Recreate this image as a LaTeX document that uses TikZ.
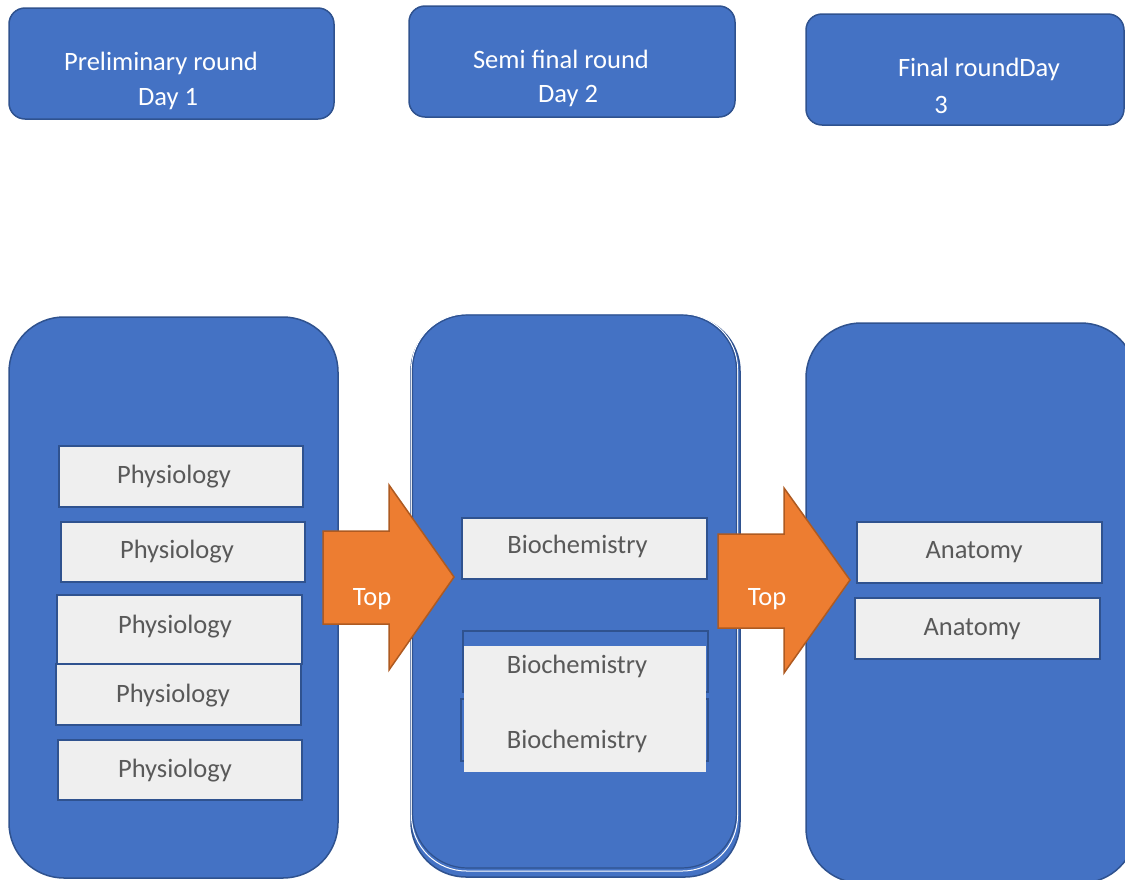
\documentclass[tikz,border=0pt]{standalone}
\usepackage{fontspec}
\setmainfont{Carlito}
\definecolor{boxblue}{HTML}{4472C4}
\definecolor{bordc}{HTML}{2F528F}
\definecolor{boxgray}{HTML}{EFEFEF}
\definecolor{txtgray}{HTML}{595959}
\definecolor{arrfill}{HTML}{ED7D31}
\definecolor{arrdraw}{HTML}{AE5A21}
\begin{document}
\begin{tikzpicture}[x=1pt,y=-1pt,
  topbox/.style={draw=bordc, fill=boxblue, line width=1.5pt, rounded corners=16pt, inner sep=0pt, anchor=center},
  bigbox/.style={draw=bordc, fill=boxblue, line width=1.5pt, rounded corners=55pt, inner sep=0pt, anchor=center},
  subbox/.style={draw=bordc, fill=boxgray, line width=1.8pt, inner sep=0pt, anchor=center},
  hollowbox/.style={draw=bordc, fill=boxblue, line width=1.8pt, inner sep=0pt, anchor=center},
  cover/.style={fill=boxgray, inner sep=0pt, anchor=center},
  wtext/.style={text=white, font=\fontsize{26.5}{32}\selectfont, inner sep=0pt, anchor=base},
  gtext/.style={text=txtgray, font=\fontsize{26.5}{32}\selectfont, inner sep=0pt, anchor=base},
  blockarrow/.style={fill=arrfill, draw=arrdraw, line width=1.5pt, line join=miter}
]
\useasboundingbox (0,0) rectangle (1125,879);

% top boxes
\node[topbox, minimum width=325pt, minimum height=111pt] (t1) at (171.5,63.5) {};
\node[topbox, minimum width=326pt, minimum height=111pt] (t2) at (572,61.5) {};
\node[topbox, minimum width=318pt, minimum height=111pt] (t3) at (965,69.5) {};
\node[wtext] (t1a) at (161,70) {Preliminary round};
\node[wtext] (t1b) at (168,105) {Day 1};
\node[wtext] (t2a) at (561,68) {Semi final round};
\node[wtext] (t2b) at (568,102) {Day 2};
\node[wtext] (t3a) at (979,76) {Final roundDay};
\node[wtext] (t3b) at (941,113) {3};

% big boxes
\node[bigbox, minimum width=329pt, minimum height=561pt] (ca) at (173.5,597.5) {};
\node[bigbox, minimum width=329pt, minimum height=561pt] (cbback) at (575.5,596.5) {};
\node[bigbox, draw=white, line width=1pt, minimum width=326pt, minimum height=557pt] (cbwhite) at (574.5,592.5) {};
\node[bigbox, line width=1.2pt, minimum width=324pt, minimum height=553pt] (cb) at (574.5,591.5) {};
\node[bigbox, minimum width=330pt, minimum height=560pt] (cc) at (971,603) {};

% physiology
\node[subbox, minimum width=244pt, minimum height=61pt] (p1) at (181,476.5) {};
\node[subbox, minimum width=244pt, minimum height=60pt] (p2) at (183,552) {};
\node[subbox, minimum width=245pt, minimum height=69pt] (p3) at (179.5,629.5) {};
\node[subbox, minimum width=245pt, minimum height=61pt] (p4) at (178.5,694.5) {};
\node[subbox, minimum width=244pt, minimum height=60pt] (p5) at (180,770) {};
\node[gtext] (p1t) at (174,483) {Physiology};
\node[gtext] (p2t) at (177,558) {Physiology};
\node[gtext] (p3t) at (175,633) {Physiology};
\node[gtext] (p4t) at (173,702) {Physiology};
\node[gtext] (p5t) at (175,777) {Physiology};

% biochemistry
\node[subbox, minimum width=245pt, minimum height=61pt] (b1) at (584.5,548.5) {};
\node[hollowbox, minimum width=245pt, minimum height=61pt] (b2) at (585.5,661.5) {};
\node[hollowbox, minimum width=247pt, minimum height=62pt] (b3) at (584.5,730) {};
\node[cover, minimum width=242pt, minimum height=126pt] (bcover) at (585,709) {};
\node[gtext] (b1t) at (577.5,553) {Biochemistry};
\node[gtext] (b2t) at (577,673) {Biochemistry};
\node[gtext] (b3t) at (577,748) {Biochemistry};

% anatomy
\node[subbox, minimum width=245pt, minimum height=61pt] (a1) at (979.5,552.5) {};
\node[subbox, minimum width=245pt, minimum height=61pt] (a2) at (977.5,628.5) {};
\node[gtext] (a1t) at (974,558) {Anatomy};
\node[gtext] (a2t) at (972,635) {Anatomy};

% block arrows
\draw[blockarrow] (323,531) -- (389,531) -- (389,485) -- (454,577) -- (389,670) -- (389,624) -- (323,624) -- cycle;
\node[wtext] (top1) at (372,605) {Top};
\draw[blockarrow] (718,534) -- (784,534) -- (784,488) -- (850,580) -- (784,673) -- (784,628) -- (718,628) -- cycle;
\node[wtext] (top2) at (767,605) {Top};
\end{tikzpicture}
\end{document}
